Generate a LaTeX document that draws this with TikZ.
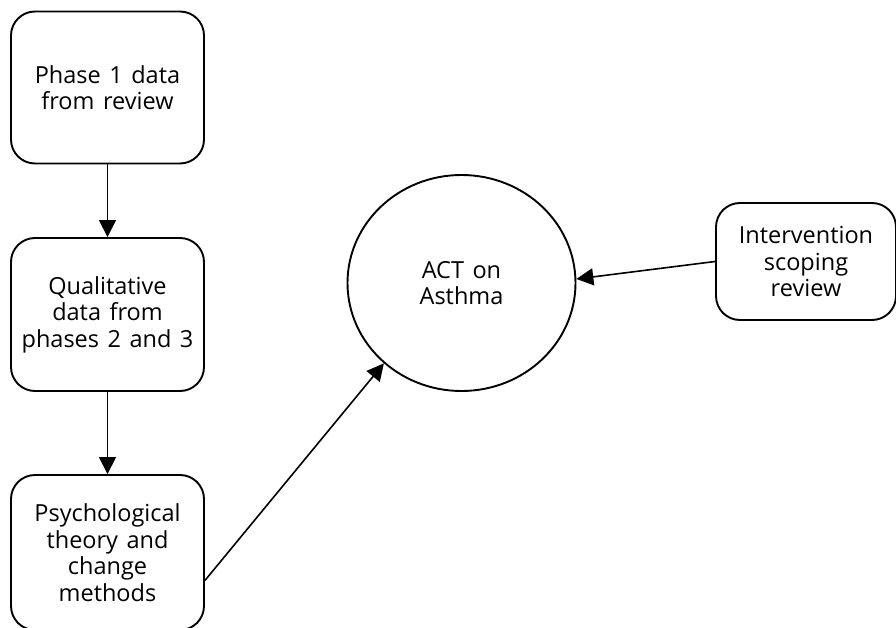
\documentclass[tikz,border=0pt]{standalone}
\usepackage{fontspec}
\setmainfont{Open Sans}
\usetikzlibrary{arrows.meta,shapes.geometric}
\newcommand{\lblfont}{\fontsize{23.5}{26.5}\selectfont\spaceskip=8.5pt\relax}
\begin{document}
\begin{tikzpicture}[x=1pt,y=-1pt,
  box/.style={draw, line width=1.9pt, rounded corners=24pt, minimum width=193pt, align=center, inner sep=0pt, font=\lblfont},
  conn/.style={line width=1.6pt, -{Triangle[length=17pt,width=17pt]}}]
\useasboundingbox (0,0) rectangle (896,628);
\node[box, minimum height=152pt] (p1) at (107.5,87.5) {Phase 1 data\\from review};
\node[box, minimum height=153pt] (p2) at (107.5,314.5) {Qualitative\\data from\\phases 2 and 3};
\node[box, minimum height=155pt] (p3) at (107.5,552.5) {Psychological\\theory and\\change\\methods};
\node[draw, line width=1.9pt, ellipse, minimum width=228pt, minimum height=216pt, inner sep=0pt, align=center, font=\lblfont] (act) at (461.5,283) {ACT on\\Asthma};
\node[box, minimum width=180pt, minimum height=117pt] (iv) at (806,261.5) {Intervention\\scoping\\review};
\draw[conn] (p1.south) -- (p2.north);
\draw[conn] (p2.south) -- (p3.north);
\draw[conn] (p3.-16) -- (act.226);
\draw[conn] (iv.west) -- (act.2);
\end{tikzpicture}
\end{document}
